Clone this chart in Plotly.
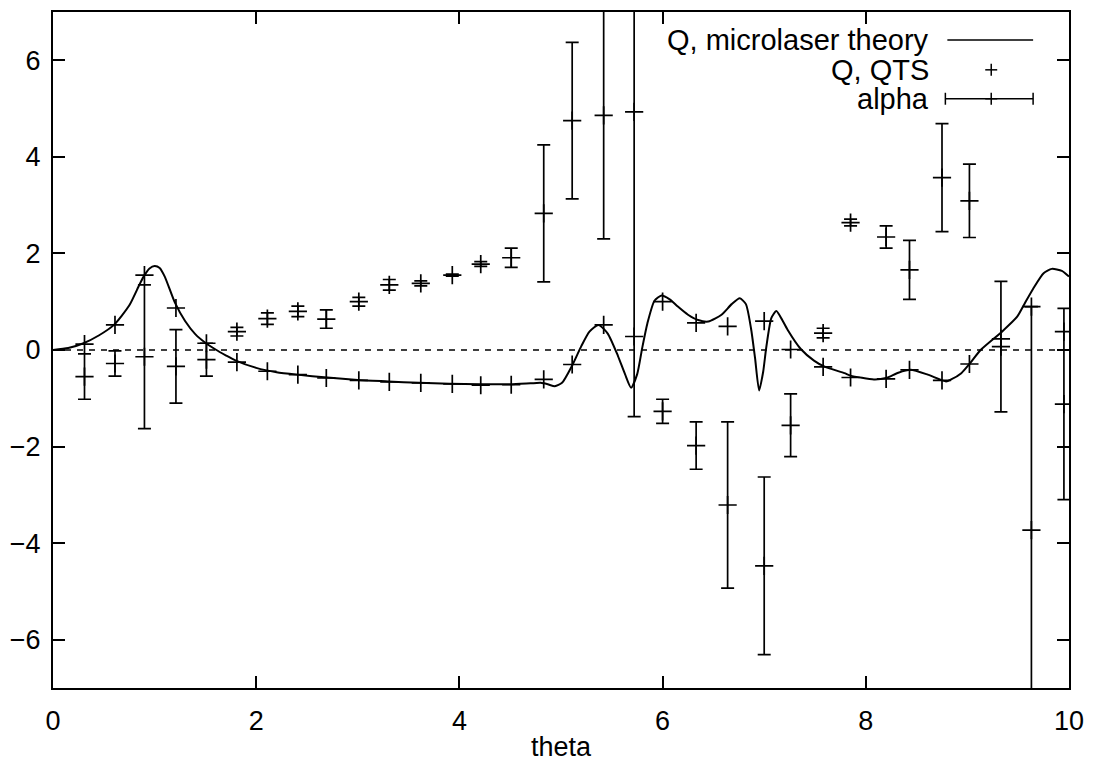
import plotly.graph_objects as go

# ---- data ----
theory_theta = [0.00, 0.15, 0.30, 0.45, 0.60, 0.75, 0.85, 0.90, 0.95, 1.00, 1.05, 1.10, 1.20, 1.30,
                1.40, 1.50, 1.60, 1.70, 1.80, 2.00, 2.20, 2.40, 2.70, 3.00, 3.30, 3.60, 3.90, 4.20,
                4.50, 4.70, 4.80, 4.87, 4.94, 5.01, 5.11, 5.20, 5.28, 5.37, 5.46, 5.56, 5.63, 5.69,
                5.75, 5.80, 5.85, 5.92, 5.99, 6.07, 6.15, 6.25, 6.35, 6.45, 6.58, 6.68, 6.76, 6.82,
                6.87, 6.91, 6.95, 6.99, 7.02, 7.07, 7.12, 7.17, 7.23, 7.36, 7.49, 7.59, 7.79, 7.85,
                8.08, 8.20, 8.32, 8.44, 8.61, 8.79, 8.84, 8.94, 9.02, 9.13, 9.34, 9.49, 9.56, 9.65,
                9.75, 9.83, 9.93, 10.00]
theory_q = [0.00, 0.04, 0.14, 0.30, 0.52, 0.92, 1.35, 1.55, 1.69, 1.74, 1.70, 1.52, 0.98, 0.60,
            0.33, 0.15, 0.01, -0.11, -0.22, -0.37, -0.46, -0.51, -0.57, -0.62, -0.65, -0.68, -0.70, -0.71,
            -0.71, -0.69, -0.68, -0.71, -0.75, -0.68, -0.32, 0.08, 0.38, 0.52, 0.34, -0.12, -0.50, -0.78,
            -0.50, 0.05, 0.55, 1.02, 1.13, 1.05, 0.90, 0.73, 0.62, 0.59, 0.73, 0.95, 1.07, 0.95,
            0.45, -0.17, -0.84, -0.45, 0.05, 0.66, 0.81, 0.65, 0.42, 0.02, -0.22, -0.34, -0.48, -0.53,
            -0.61, -0.58, -0.47, -0.41, -0.51, -0.65, -0.61, -0.48, -0.29, 0.00, 0.38, 0.69, 0.95, 1.28,
            1.59, 1.68, 1.64, 1.52]

theta = [0.31, 0.61, 0.90, 1.21, 1.51, 1.81, 2.11, 2.41, 2.69, 3.01, 3.31, 3.62, 3.93, 4.21,
         4.51, 4.83, 5.11, 5.42, 5.72, 6.00, 6.33, 6.64, 7.00, 7.26, 7.58, 7.85, 8.20, 8.43,
         8.75, 9.02, 9.33, 9.63, 9.95]
q_qts = [0.12, 0.52, 1.55, 0.87, 0.14, -0.25, -0.44, -0.51, -0.58, -0.63, -0.66, -0.68, -0.70, -0.73,
         -0.72, -0.61, -0.30, 0.52, 0.28, 1.00, 0.56, 0.49, 0.60, 0.01, -0.35, -0.57, -0.60, -0.41,
         -0.63, -0.29, 0.23, 0.90, 0.38]
alpha = [-0.55, -0.28, -0.14, -0.34, -0.20, 0.38, 0.65, 0.80, 0.64, 1.00, 1.35, 1.38, 1.55, 1.78,
         1.91, 2.83, 4.75, 4.86, 4.93, -1.27, -1.98, -3.21, -4.47, -1.56, 0.35, 2.64, 2.34, 1.66,
         3.57, 3.09, 0.07, -3.73, -1.12]
alpha_err = [0.47, 0.26, 1.49, 0.76, 0.34, 0.09, 0.12, 0.11, 0.19, 0.09, 0.11, 0.05, 0.02, 0.05,
             0.20, 1.42, 1.62, 2.56, 6.31, 0.25, 0.49, 1.72, 1.84, 0.65, 0.10, 0.07, 0.23, 0.61,
             1.12, 0.76, 1.35, 4.63, 1.98]

legend_labels = ["Q, microlaser theory", "Q, QTS", "alpha"]
x_ticks = [0, 2, 4, 6, 8, 10]
y_ticks = [-6, -4, -2, 0, 2, 4, 6]

FONT = "Liberation Sans, Arial, Helvetica, sans-serif"
W, H = 1094, 781
ML, MR, MT, MB = 53, 22, 10, 93
PW, PH = W - ML - MR, H - MT - MB

fig = go.Figure()

fig.add_trace(go.Scatter(
    x=theory_theta, y=theory_q, mode="lines",
    line=dict(color="black", width=2, shape="spline", smoothing=0.6),
    name=legend_labels[0], showlegend=False, hoverinfo="skip"))

fig.add_trace(go.Scatter(
    x=theta, y=q_qts, mode="markers",
    marker=dict(symbol="cross-thin", size=13, line=dict(color="black", width=1.7)),
    name=legend_labels[1], showlegend=False))

fig.add_trace(go.Scatter(
    x=theta, y=alpha, mode="markers",
    marker=dict(symbol="cross-thin", size=13, line=dict(color="black", width=1.7)),
    error_y=dict(type="data", array=alpha_err, visible=True, color="black", thickness=1.7, width=6.5),
    name=legend_labels[2], showlegend=False))

# dashed zero line
fig.add_shape(type="line", xref="x", yref="y", x0=0, x1=10, y0=0, y1=0,
              line=dict(color="black", width=1.5, dash="6px,6px"), layer="below")

# ---- custom legend (text right-aligned, sample on the right) ----
def px_x(p):
    return (p - ML) / PW

def px_y(p):
    return (H - MB - p) / PH

rows = [38, 68, 97]
text_right = 934
s0, s1, sc = 950, 1036, 994
for lab, ry in zip(legend_labels, rows):
    fig.add_annotation(x=px_x(text_right), y=px_y(ry), xref="paper", yref="paper",
                       text=lab, showarrow=False, xanchor="right", yanchor="middle",
                       font=dict(family=FONT, size=29, color="black"))
# line sample
fig.add_shape(type="line", xref="paper", yref="paper", x0=px_x(s0), x1=px_x(s1),
              y0=px_y(rows[0]), y1=px_y(rows[0]), line=dict(color="black", width=1.5))
# plus sample
for ry in (rows[1], rows[2]):
    fig.add_shape(type="line", xref="paper", yref="paper", x0=px_x(sc - 6), x1=px_x(sc + 6),
                  y0=px_y(ry), y1=px_y(ry), line=dict(color="black", width=1.5))
    fig.add_shape(type="line", xref="paper", yref="paper", x0=px_x(sc), x1=px_x(sc),
                  y0=px_y(ry - 6), y1=px_y(ry + 6), line=dict(color="black", width=1.5))
# errorbar sample
fig.add_shape(type="line", xref="paper", yref="paper", x0=px_x(s0 - 2), x1=px_x(s1),
              y0=px_y(rows[2]), y1=px_y(rows[2]), line=dict(color="black", width=1.5))
for xx in (s0 - 2, s1):
    fig.add_shape(type="line", xref="paper", yref="paper", x0=px_x(xx), x1=px_x(xx),
                  y0=px_y(rows[2] - 6), y1=px_y(rows[2] + 6), line=dict(color="black", width=1.5))

axis_common = dict(showline=True, linecolor="black", linewidth=2, mirror="allticks",
                   ticks="inside", ticklen=12, tickwidth=2, tickcolor="black",
                   showgrid=False, zeroline=False,
                   tickfont=dict(family=FONT, size=27, color="black"))

fig.update_layout(
    width=W, height=H,
    margin=dict(l=ML, r=MR, t=MT, b=MB),
    plot_bgcolor="white", paper_bgcolor="white",
    showlegend=False,
    font=dict(family=FONT, size=27, color="black"),
    xaxis=dict(range=[0, 10], tickvals=x_ticks, ticklabelstandoff=8,
               title=dict(text="theta", font=dict(family=FONT, size=27), standoff=2),
               **axis_common),
    yaxis=dict(range=[-7, 7], tickvals=y_ticks, ticklabelstandoff=5, **axis_common),
)

fig.write_html("out.html")
